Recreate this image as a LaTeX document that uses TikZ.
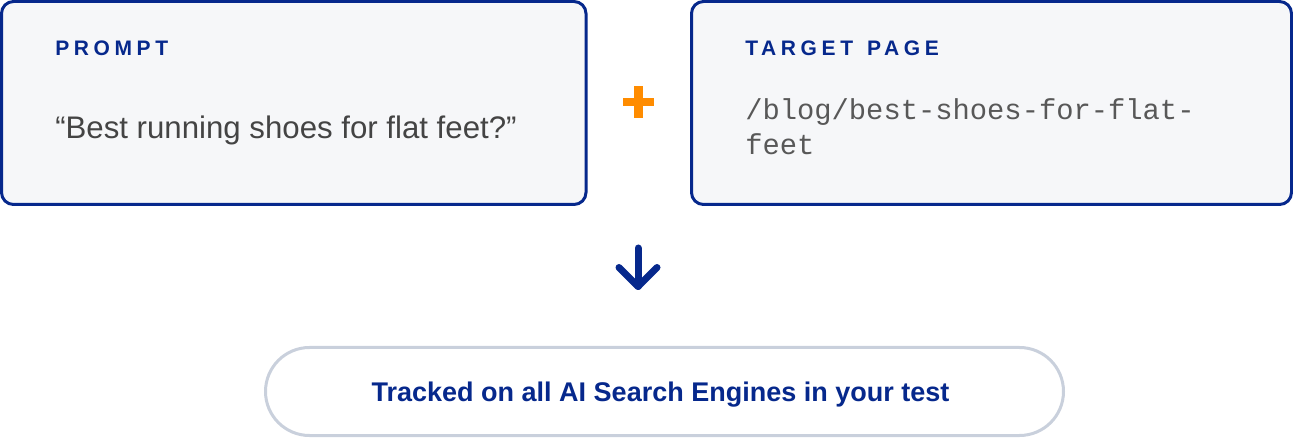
\documentclass[tikz,border=0pt]{standalone}
\usepackage{fontspec}
\setmainfont{Liberation Sans}
\newfontfamily\labelfont[LetterSpace=22]{Liberation Sans}
\newfontfamily\pathfont{Liberation Mono}
\usetikzlibrary{positioning}

\definecolor{navy}{RGB}{6,40,140}
\definecolor{cardfill}{RGB}{246,247,249}
\definecolor{bodygray}{RGB}{68,68,68}
\definecolor{monogray}{RGB}{88,88,88}
\definecolor{plusorange}{RGB}{255,140,0}
\definecolor{pillgray}{RGB}{201,208,220}

\tikzset{
  card/.style={draw=navy, fill=cardfill, line width=2.25pt, rounded corners=9pt},
  pill/.style={draw=pillgray, fill=white, line width=2.25pt, rounded corners=33pt},
  cardtitle/.style={anchor=base west, inner sep=0pt, text=navy, font=\labelfont\bfseries\fontsize{15.75}{18}\selectfont},
  cardbody/.style={anchor=base west, inner sep=0pt, text=bodygray, font=\fontsize{23.4}{28}\selectfont},
  cardpath/.style={anchor=base west, inner sep=0pt, text=monogray, font=\pathfont\fontsize{21.6}{26.25}\selectfont},
  arrowline/.style={navy, line width=5.25pt, line cap=round, line join=round},
}

\begin{document}
\begin{tikzpicture}[x=0.75pt, y=-0.75pt]

\useasboundingbox (0,0) rectangle (1293,438);

% Cards
\draw [card] (1.5,1.5) rectangle (586,204.5);
\draw [card] (691.5,1.5) rectangle (1291.5,204.5);

\node (prompttitle) at (55,56) [cardtitle] {PROMPT};
\node (prompttext) at (55,139) [cardbody] {“Best running shoes for flat feet?”};

\node (targettitle) at (745,56) [cardtitle] {TARGET\hspace{10.5pt}PAGE};
\node (targetline) at (745,120) [cardpath] {/blog/best-shoes-for-flat-};
\node (targetend) at (745,155) [cardpath] {feet};

% Plus
\fill [plusorange] (623,98) rectangle (654,106.5);
\fill [plusorange] (634.3,86) rectangle (642.8,118);

% Arrow
\coordinate (arrtop) at (638,248);
\coordinate (arrbot) at (638,286.5);
\draw [arrowline] (arrtop)--(arrbot);
\draw [arrowline] ([shift={(-19,-19)}]arrbot) -- (arrbot) -- ++(19,-19);

% Result
\draw [pill] (265.5,347.5) rectangle (1063.5,435.5);
\node (result) at (660.5,402) [anchor=base, inner sep=0pt, text=navy, font=\bfseries\fontsize{20.25}{24}\selectfont] {Tracked on all AI Search Engines in your test};

\end{tikzpicture}
\end{document}
